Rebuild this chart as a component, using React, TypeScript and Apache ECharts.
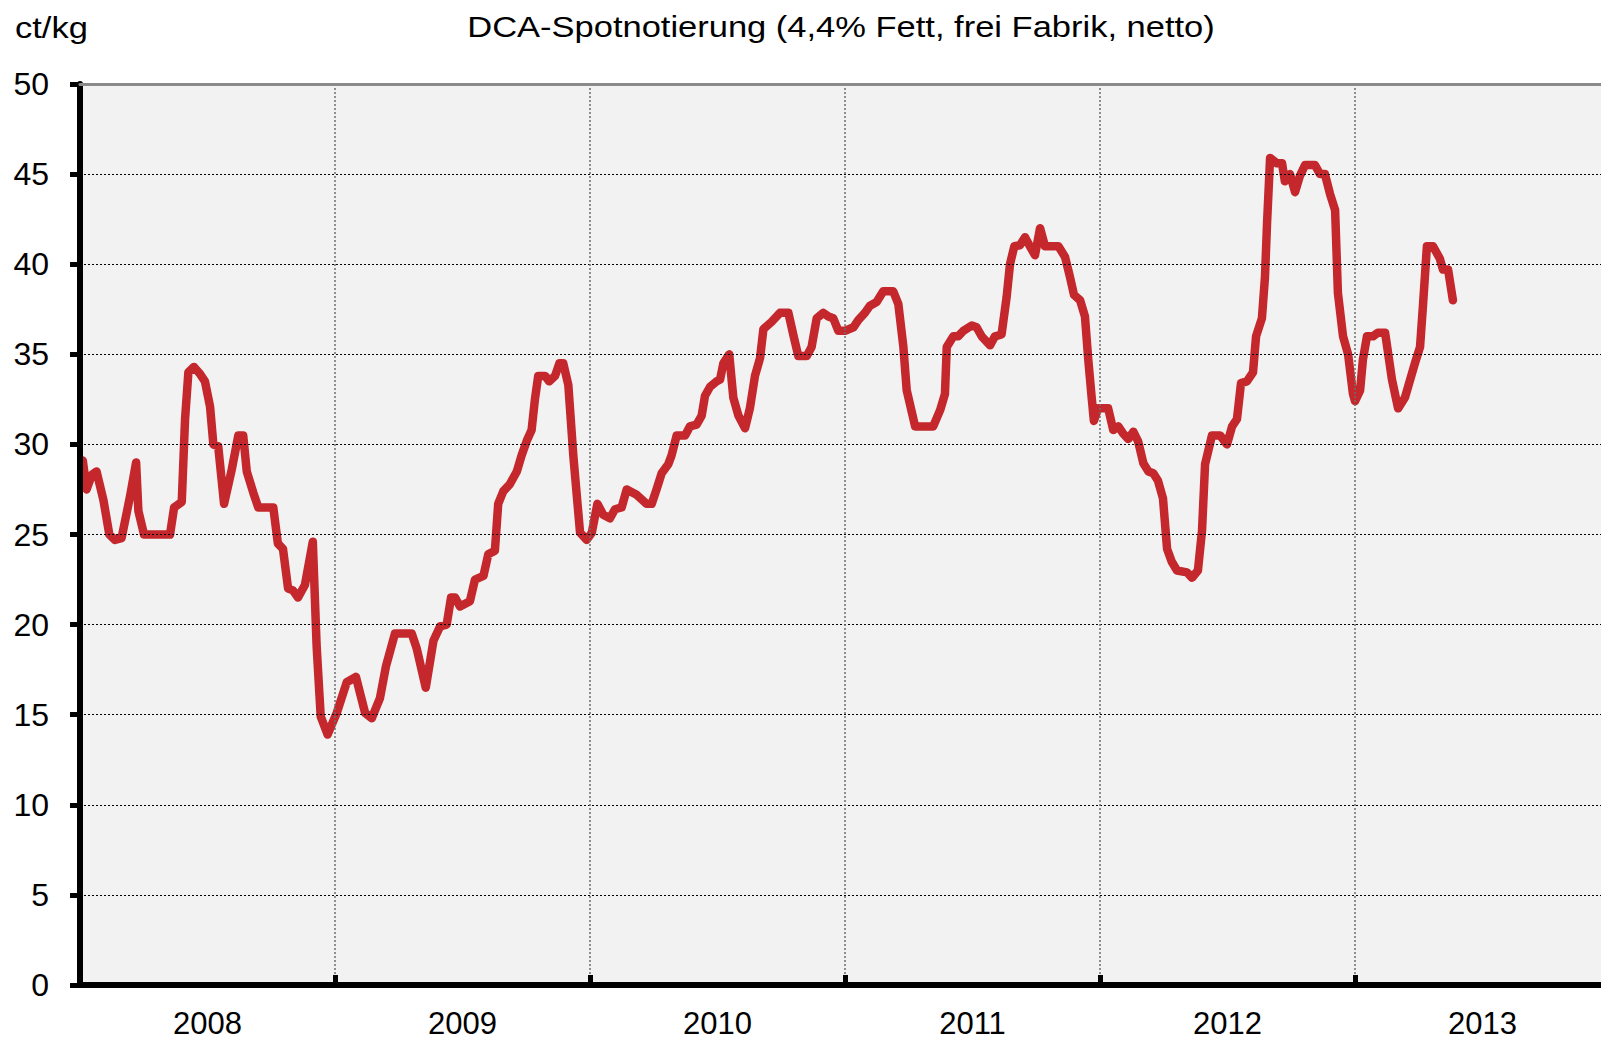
import React, { useEffect, useRef } from "react";
import * as echarts from "echarts";

// Position of each weekly quotation, in decimal years
const weekPos: number[] = [
  2008.011, 2008.026, 2008.046, 2008.065, 2008.092, 2008.115, 2008.137, 2008.163, 2008.196, 2008.22,
  2008.229, 2008.251, 2008.353, 2008.369, 2008.399, 2008.412, 2008.425, 2008.447, 2008.471, 2008.49,
  2008.51, 2008.523, 2008.542, 2008.565, 2008.595, 2008.621, 2008.64, 2008.654, 2008.68, 2008.699,
  2008.758, 2008.776, 2008.796, 2008.816, 2008.835, 2008.855, 2008.882, 2008.913, 2008.928, 2008.944,
  2008.971, 2009.007, 2009.046, 2009.082, 2009.118, 2009.144, 2009.176, 2009.2, 2009.235, 2009.301,
  2009.32, 2009.356, 2009.386, 2009.412, 2009.438, 2009.455, 2009.471, 2009.49, 2009.529, 2009.549,
  2009.582, 2009.601, 2009.627, 2009.64, 2009.66, 2009.686, 2009.713, 2009.732, 2009.752, 2009.771,
  2009.784, 2009.797, 2009.824, 2009.84, 2009.863, 2009.88, 2009.895, 2009.915, 2009.935, 2009.961,
  2009.987, 2010.007, 2010.029, 2010.052, 2010.078, 2010.098, 2010.124, 2010.144, 2010.183, 2010.222,
  2010.242, 2010.261, 2010.281, 2010.307, 2010.32, 2010.34, 2010.373, 2010.392, 2010.418, 2010.438,
  2010.451, 2010.471, 2010.497, 2010.51, 2010.523, 2010.546, 2010.562, 2010.582, 2010.608, 2010.627,
  2010.647, 2010.667, 2010.68, 2010.712, 2010.745, 2010.778, 2010.797, 2010.817, 2010.85, 2010.869,
  2010.889, 2010.915, 2010.935, 2010.954, 2010.974, 2011.0, 2011.033, 2011.052, 2011.078, 2011.098,
  2011.124, 2011.15, 2011.189, 2011.209, 2011.229, 2011.242, 2011.275, 2011.346, 2011.373, 2011.392,
  2011.399, 2011.425, 2011.444, 2011.464, 2011.497, 2011.516, 2011.536, 2011.569, 2011.588, 2011.614,
  2011.634, 2011.647, 2011.664, 2011.686, 2011.706, 2011.725, 2011.745, 2011.765, 2011.784, 2011.837,
  2011.863, 2011.882, 2011.898, 2011.922, 2011.941, 2011.954, 2011.967, 2011.976, 2011.993, 2012.032,
  2012.052, 2012.072, 2012.091, 2012.111, 2012.131, 2012.15, 2012.17, 2012.19, 2012.209, 2012.227,
  2012.247, 2012.263, 2012.281, 2012.302, 2012.341, 2012.361, 2012.384, 2012.4, 2012.412, 2012.439,
  2012.471, 2012.498, 2012.518, 2012.537, 2012.553, 2012.576, 2012.6, 2012.612, 2012.635, 2012.647,
  2012.655, 2012.667, 2012.694, 2012.714, 2012.725, 2012.745, 2012.765, 2012.784, 2012.804, 2012.843,
  2012.863, 2012.882, 2012.902, 2012.922, 2012.933, 2012.953, 2012.973, 2012.992, 2013.0, 2013.02,
  2013.031, 2013.047, 2013.071, 2013.09, 2013.118, 2013.145, 2013.169, 2013.196, 2013.235, 2013.255,
  2013.267, 2013.282, 2013.306, 2013.333, 2013.345, 2013.365, 2013.384,
];

// DCA spot quotation, ct/kg
const spotPrice: number[] = [
  29.1, 27.5, 28.3, 28.5, 26.9, 25.0, 24.7, 24.8, 27.1, 29.0,
  26.3, 25.0, 25.0, 26.5, 26.8, 31.4, 34.0, 34.3, 33.9, 33.5,
  32.1, 30.0, 29.9, 26.7, 28.6, 30.5, 30.5, 28.5, 27.3, 26.5,
  26.5, 24.5, 24.2, 22.0, 21.9, 21.5, 22.2, 24.6, 18.8, 14.9,
  13.9, 15.1, 16.8, 17.1, 15.1, 14.8, 15.9, 17.7, 19.5, 19.5,
  18.7, 16.5, 19.1, 19.9, 20.0, 21.5, 21.5, 21.0, 21.3, 22.5,
  22.7, 23.9, 24.1, 26.7, 27.4, 27.8, 28.5, 29.4, 30.2, 30.8,
  32.5, 33.8, 33.8, 33.5, 33.8, 34.5, 34.5, 33.3, 29.3, 25.1,
  24.7, 25.1, 26.7, 26.1, 25.9, 26.4, 26.5, 27.5, 27.2, 26.7,
  26.7, 27.5, 28.4, 28.9, 29.4, 30.5, 30.5, 31.0, 31.1, 31.6,
  32.7, 33.2, 33.5, 33.6, 34.5, 35.0, 32.6, 31.6, 30.9, 32.0,
  33.8, 34.8, 36.4, 36.8, 37.3, 37.3, 36.1, 34.9, 34.9, 35.4,
  37.0, 37.3, 37.1, 37.0, 36.3, 36.3, 36.5, 36.9, 37.3, 37.7,
  37.9, 38.5, 38.5, 37.8, 35.4, 33.0, 31.0, 31.0, 31.9, 32.8,
  35.4, 36.0, 36.0, 36.3, 36.6, 36.5, 36.0, 35.5, 36.0, 36.1,
  38.2, 40.0, 41.0, 41.05, 41.5, 41.0, 40.5, 42.0, 41.0, 41.0,
  40.4, 39.3, 38.3, 38.0, 37.1, 34.7, 32.65, 31.3, 32.0, 32.0,
  30.8, 31.0, 30.6, 30.3, 30.7, 30.15, 28.95, 28.5, 28.4, 28.0,
  27.0, 24.2, 23.5, 23.0, 22.9, 22.6, 23.0, 25.2, 28.9, 30.5,
  30.5, 30.0, 31.0, 31.4, 33.4, 33.5, 34.0, 36.0, 37.0, 39.3,
  42.25, 45.9, 45.6, 45.6, 44.6, 45.0, 44.0, 44.9, 45.5, 45.5,
  45.0, 45.0, 43.9, 43.0, 38.4, 36.0, 35.0, 32.8, 32.4, 33.0,
  34.7, 36.0, 36.0, 36.2, 36.2, 33.6, 32.0, 32.6, 34.5, 35.4,
  37.8, 41.0, 41.0, 40.3, 39.7, 39.7, 38.0,
];

const yearLabels: string[] = ["2008", "2009", "2010", "2011", "2012", "2013"];
const titleText = "DCA-Spotnotierung (4,4% Fett, frei Fabrik, netto)";
const unitText = "ct/kg";

const FONT = "'Liberation Sans', Arial, sans-serif";

export default function App() {
  const ref = useRef<HTMLDivElement>(null);

  useEffect(() => {
    document.body.style.margin = "0";
    document.body.style.overflow = "hidden";
    document.documentElement.style.overflow = "hidden";
    if (!ref.current) return;
    const chart = echarts.init(ref.current, undefined, { renderer: "svg" });
    const seriesData = weekPos.map((t, i) => [t, spotPrice[i]]);
    chart.setOption({
      animation: false,
      backgroundColor: "#ffffff",
      textStyle: { fontFamily: FONT },
      grid: {
        left: 80,
        top: 84,
        right: 0,
        bottom: 57,
        show: true,
        backgroundColor: "#f2f2f2",
        borderWidth: 0,
      },
      graphic: [
        {
          type: "text",
          x: 841,
          y: 27,
          scaleX: 1.15,
          style: {
            text: titleText,
            font: `30px ${FONT}`,
            fill: "#000",
            align: "center",
            verticalAlign: "middle",
          },
        },
        {
          type: "text",
          x: 15,
          y: 28,
          scaleX: 1.15,
          style: {
            text: unitText,
            font: `30px ${FONT}`,
            fill: "#000",
            align: "left",
            verticalAlign: "middle",
          },
        },
      ],
      xAxis: [
        {
          type: "value",
          min: 2008,
          max: 2014,
          interval: 1,
          position: "bottom",
          axisLine: { show: true, onZero: false, lineStyle: { color: "#000", width: 6 } },
          axisTick: { show: true, inside: true, length: 10, lineStyle: { color: "#000", width: 5 } },
          axisLabel: { show: false },
          splitLine: { show: true, lineStyle: { color: "#6e6e6e", width: 1.5, type: [2, 2] } },
          z: 3,
        },
        {
          type: "category",
          data: yearLabels,
          position: "bottom",
          boundaryGap: true,
          axisLine: { show: false },
          axisTick: { show: false },
          splitLine: { show: false },
          axisLabel: { color: "#000", fontSize: 31, margin: 23, fontFamily: FONT },
        },
        {
          type: "value",
          min: 2008,
          max: 2014,
          position: "top",
          axisLine: { show: true, onZero: false, lineStyle: { color: "#8a8a8a", width: 3 } },
          axisTick: { show: false },
          axisLabel: { show: false },
          splitLine: { show: false },
          z: 5,
        },
      ],
      yAxis: {
        type: "value",
        min: 0,
        max: 50,
        interval: 5,
        axisLine: { show: true, onZero: false, lineStyle: { color: "#000", width: 6 } },
        axisTick: { show: true, inside: false, length: 10, lineStyle: { color: "#000", width: 5 } },
        axisLabel: { color: "#000", fontSize: 32, margin: 31, fontFamily: FONT },
        splitLine: { show: true, lineStyle: { color: "#000", width: 1, type: [2, 2] } },
        z: 3,
      },
      series: [
        {
          type: "line",
          xAxisIndex: 0,
          data: seriesData,
          showSymbol: false,
          symbol: "none",
          lineStyle: { color: "#c4282c", width: 8.5, join: "round", cap: "round" },
          z: 2,
        },
      ],
    });
    return () => chart.dispose();
  }, []);

  return <div ref={ref} style={{ width: 1610, height: 1042 }} />;
}
